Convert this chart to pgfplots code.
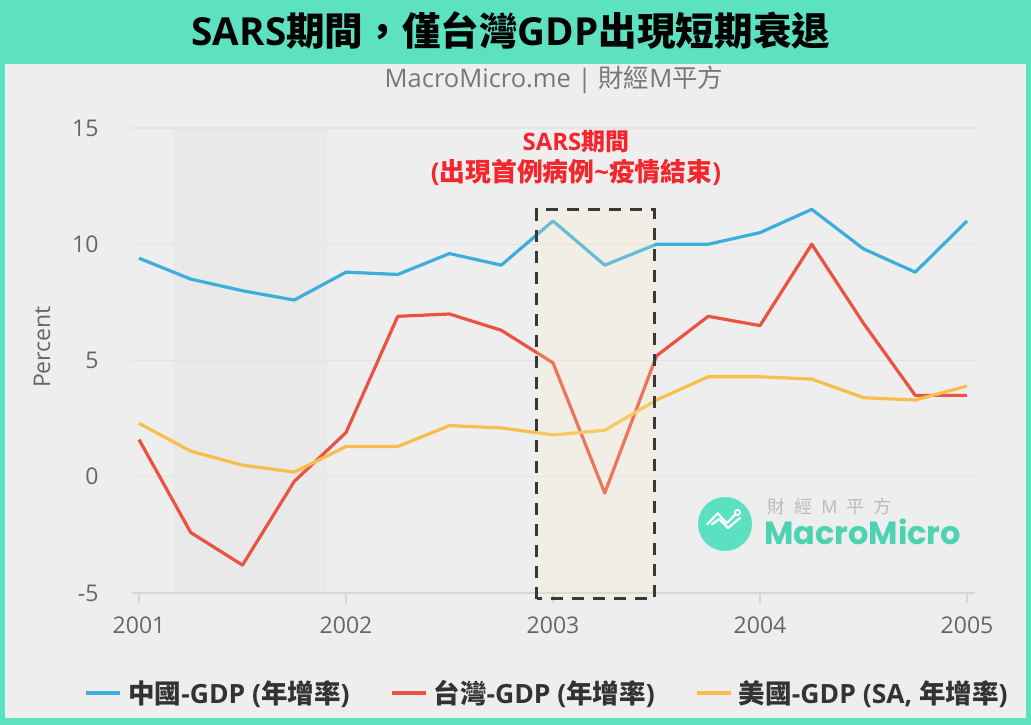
\documentclass[border=0pt]{standalone}
\usepackage{fontspec}
\setmainfont{Noto Sans CJK TC}
\newfontfamily\os{Open Sans}
\newfontfamily\pop{Poppins}
\usepackage{pgfplots}
\usepackage{pgfplotstable}
\pgfplotsset{compat=1.18}

\definecolor{frame}{HTML}{5CE1C1}
\definecolor{bg}{HTML}{EEEEEE}
\definecolor{band}{HTML}{E9E9E9}
\definecolor{gridc}{HTML}{E3E3E3}
\definecolor{axc}{HTML}{D6D6D6}
\definecolor{cnblue}{HTML}{3DAEDC}
\definecolor{twred}{HTML}{E9533F}
\definecolor{usyel}{HTML}{F7BE4B}
\definecolor{boxline}{HTML}{383838}
\definecolor{boxfill}{HTML}{FFEECE}
\definecolor{sarsred}{HTML}{F2262C}
\definecolor{tickc}{HTML}{666666}
\definecolor{subc}{HTML}{777777}
\definecolor{legc}{HTML}{333333}
\definecolor{wmteal}{HTML}{5BE0C1}
\definecolor{wmtext}{HTML}{4DD3B1}
\definecolor{wmgray}{HTML}{BBBBBB}

% t = years since 2001 (quarterly)
\pgfplotstableread{
t cn tw us
0.00 9.4 1.6 2.3
0.25 8.5 -2.4 1.1
0.50 8.0 -3.8 0.5
0.75 7.6 -0.2 0.2
1.00 8.8 1.9 1.3
1.25 8.7 6.9 1.3
1.50 9.6 7.0 2.2
1.75 9.1 6.3 2.1
2.00 11.0 4.9 1.8
2.25 9.1 -0.7 2.0
2.50 10.0 5.2 3.3
2.75 10.0 6.9 4.3
3.00 10.5 6.5 4.3
3.25 11.5 10.0 4.2
3.50 9.8 6.6 3.4
3.75 8.8 3.5 3.3
4.00 11.0 3.5 3.9
}\gdp

\begin{document}
\begin{tikzpicture}
\fill[frame] (0pt,0pt) rectangle (1031pt,725pt);
\fill[bg] (5pt,7pt) rectangle (1026pt,661pt);
% 2001 recession shading (drawn behind the axis)
\fill[band] (172.7pt,132pt) rectangle (326.7pt,597pt);

\node[font=\fontsize{38.6}{38.6}\selectfont\bfseries, text=black] at (511pt,694pt)
  {{\os\bfseries SARS}期間，僅台灣{\os\bfseries GDP}出現短期衰退};
\node[font=\fontsize{25.5}{25.5}\selectfont, text=subc] at (554pt,645pt)
  {{\os MacroMicro.me | }財經{\os M}平方};

\begin{axis}[
  at={(132pt,132pt)}, anchor=south west,
  scale only axis, width=843pt, height=465pt,
  xmin=-0.0338, xmax=4.0386,
  ymin=-5, ymax=15,
  clip=false,
  axis x line*=bottom, axis y line*=left,
  x axis line style={draw=axc, line width=1.5pt},
  y axis line style={draw=none},
  xtick={0,1,2,3,4},
  xticklabels={2001,2002,2003,2004,2005},
  ytick={-5,0,5,10,15},
  yticklabels={-5,0,5,10,15},
  xtick style={draw=axc, line width=1.5pt},
  ytick style={draw=none},
  tick align=outside,
  major tick length=10pt,
  ymajorgrids,
  major grid style={draw=gridc, line width=1.2pt},
  tick label style={font=\os\fontsize{23}{23}\selectfont, text=tickc},
  xticklabel style={yshift=-10pt},
  yticklabel style={xshift=-20pt},
  ylabel={Percent},
  every axis y label/.style={at={(rel axis cs:-0.1068,0.529)}, rotate=90, anchor=center,
     font=\os\fontsize{23}{23}\selectfont, text=tickc},
  legend columns=3,
  legend style={at={(0.4923,-0.215)}, anchor=center, draw=none, fill=none,
     font=\fontsize{26.5}{26.5}\selectfont\bfseries, text=legc,
     /tikz/every even column/.append style={column sep=38pt}},
  legend image code/.code={\draw[#1, line width=4pt] (0pt,0pt) -- (34pt,0pt);},
  legend cell align=left,
]
\addplot[cnblue, line width=3.2pt, line join=round] table[x=t, y=cn] {\gdp};
\addlegendentry{\hspace{4pt}中國{\os\bfseries -GDP (}年增率{\os\bfseries )}}
\addplot[twred, line width=3.2pt, line join=round] table[x=t, y=tw] {\gdp};
\addlegendentry{\hspace{4pt}台灣{\os\bfseries -GDP (}年增率{\os\bfseries )}}
\addplot[usyel, line width=3.2pt, line join=round] table[x=t, y=us] {\gdp};
\addlegendentry{\hspace{4pt}美國{\os\bfseries -GDP (SA, }年增率{\os\bfseries )}}

\fill[boxfill, fill opacity=0.22] (axis cs:1.921,-5.25) rectangle (axis cs:2.489,11.49);
\draw[boxline, line width=3.2pt, dash pattern=on 12pt off 9pt] (axis cs:1.921,-5.25) rectangle (axis cs:2.489,11.49);

\node[text=sarsred, font=\fontsize{24}{24}\selectfont\bfseries] at (axis cs:2.111,14.42) {{\os\bfseries SARS}期間};
\node[text=sarsred, font=\fontsize{25.8}{25.8}\selectfont\bfseries] at (axis cs:2.111,13.09) {{\os\bfseries (}出現首例病例{\os\bfseries \char`\~}疫情結束{\os\bfseries )}};
\end{axis}

% watermark
\fill[wmteal] (725pt,201pt) circle (27pt);
\draw[white, line width=2.2pt, line join=round, line cap=round]
  (707.3pt,200.7pt) -- (717.7pt,211.7pt) -- (726.7pt,201.7pt) -- (735pt,210.3pt);
\draw[white, line width=2.2pt, line join=round, line cap=round]
  (712pt,200.7pt) -- (719pt,206pt) -- (728pt,197pt) -- (740pt,207pt);
\draw[white, line width=1.8pt] (737.5pt,212.5pt) circle (2.6pt);
\node[text=wmgray, font=\fontsize{18}{18}\selectfont] at (829.5pt,218pt)
  {財\hspace{9pt}經\hspace{9pt}{\os M}\hspace{9pt}平\hspace{9pt}方};
\node[text=wmtext, font=\pop\fontsize{32}{32}\selectfont\bfseries] at (862.5pt,193pt) {MacroMicro};
\end{tikzpicture}
\end{document}
